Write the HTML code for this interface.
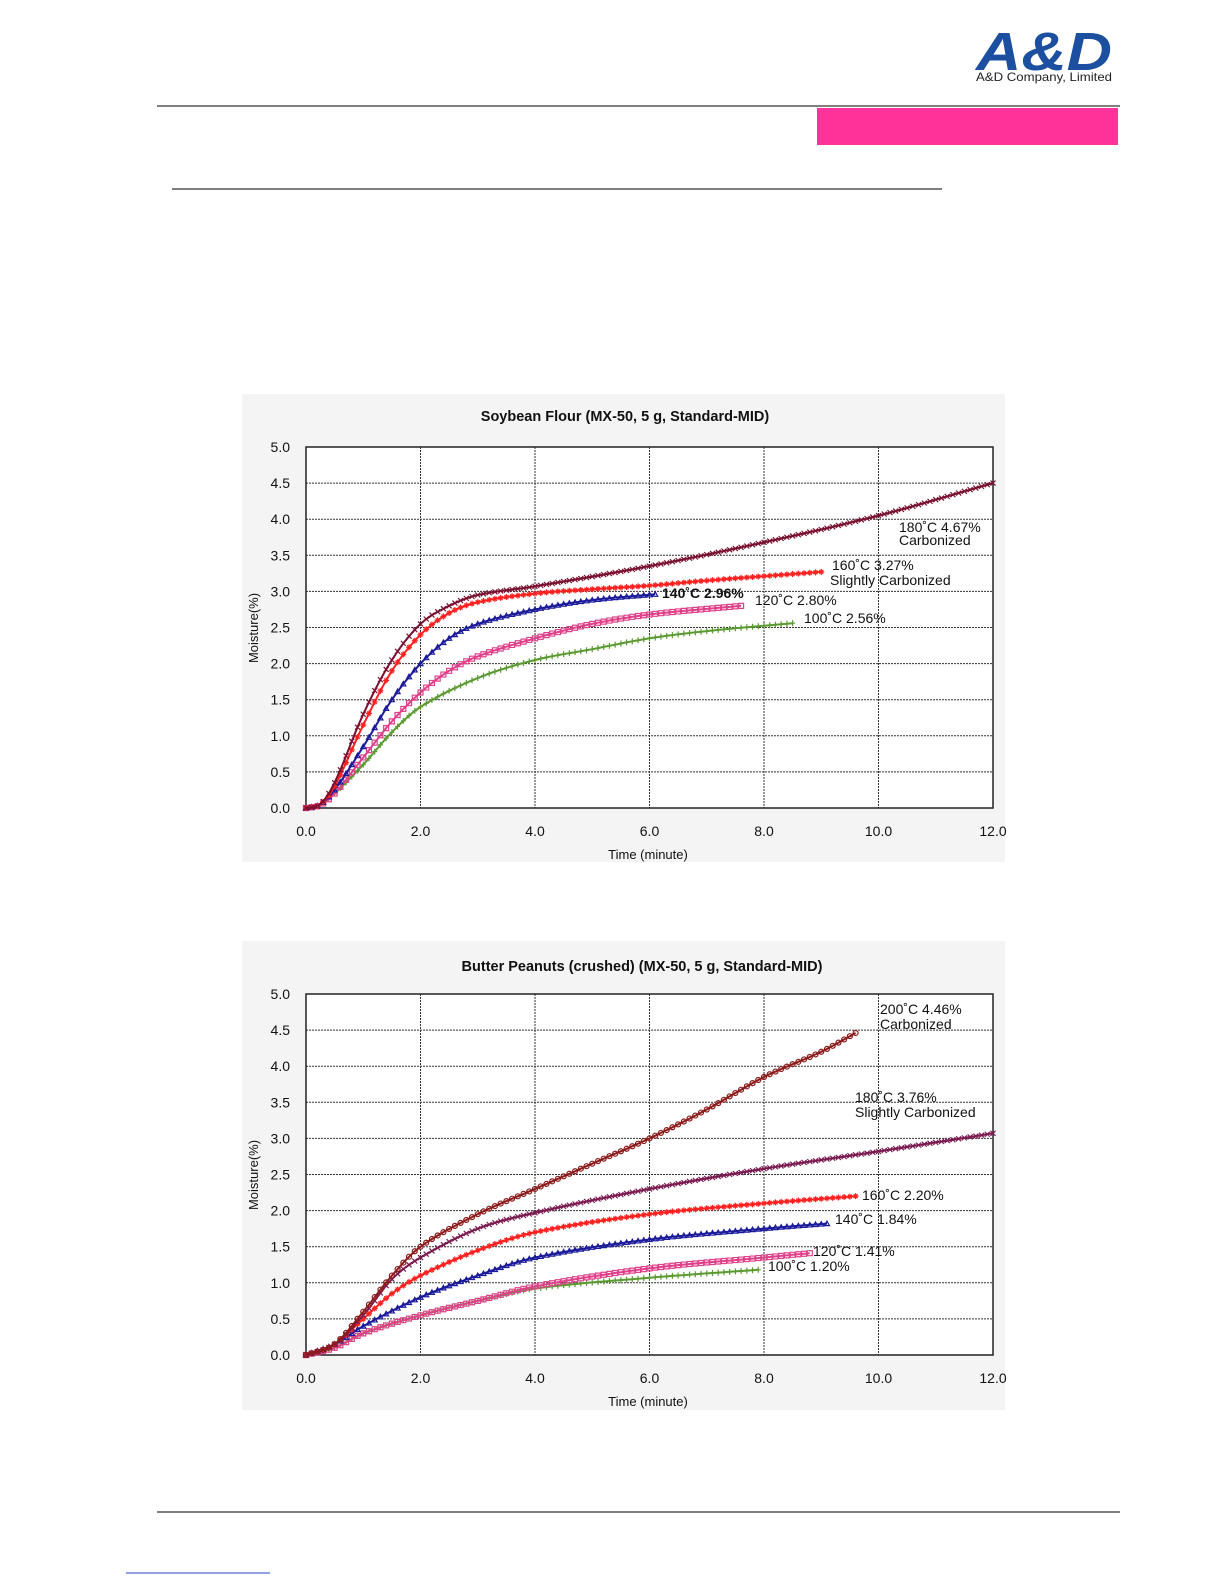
<!DOCTYPE html>
<html><head><meta charset="utf-8">
<style>
html,body{margin:0;padding:0;background:#fff;}
body{width:1224px;height:1584px;position:relative;overflow:hidden;font-family:"Liberation Sans",sans-serif;}
</style></head>
<body>
<svg id="s" width="1224" height="1584" viewBox="0 0 1224 1584" xmlns="http://www.w3.org/2000/svg" style="position:absolute;left:0;top:0">
<text x="976" y="70" font-family="Liberation Sans,sans-serif" font-weight="bold" font-style="italic" font-size="54" fill="#1c4fa0" textLength="136" lengthAdjust="spacingAndGlyphs">A&amp;D</text>
<text x="976" y="81" font-family="Liberation Sans,sans-serif" font-size="12" fill="#222" textLength="136" lengthAdjust="spacingAndGlyphs">A&amp;D Company, Limited</text>
<line x1="157" y1="106" x2="1120" y2="106" stroke="#333" stroke-width="1.2"/>
<rect x="817" y="108" width="301" height="37" fill="#ff3399"/>
<line x1="172" y1="189" x2="942" y2="189" stroke="#333" stroke-width="1.2"/>
<line x1="157" y1="1512" x2="1120" y2="1512" stroke="#333" stroke-width="1.2"/>
<line x1="126" y1="1573" x2="270" y2="1573" stroke="#2244cc" stroke-width="1"/>
<rect x="242" y="394" width="763" height="468" fill="#f4f4f4"/>
<rect x="242" y="941" width="763" height="469" fill="#f4f4f4"/>
<g id="c1"></g><g id="c2"></g>
<g font-family="Liberation Sans,sans-serif" font-size="14" fill="#111">
<text x="625" y="421" text-anchor="middle" font-weight="bold" font-size="14.5">Soybean Flour (MX-50, 5 g, Standard-MID)</text>
<text x="642" y="971" text-anchor="middle" font-weight="bold" font-size="14.5">Butter Peanuts (crushed)  (MX-50, 5 g, Standard-MID)</text>
<text x="648" y="859" text-anchor="middle" font-size="13">Time (minute)</text>
<text x="648" y="1406" text-anchor="middle" font-size="13">Time (minute)</text>
<text transform="translate(258,628) rotate(-90)" text-anchor="middle" font-size="13">Moisture(%)</text>
<text transform="translate(258,1175) rotate(-90)" text-anchor="middle" font-size="13">Moisture(%)</text>
<text x="899" y="532">180˚C 4.67%</text>
<text x="899" y="545">Carbonized</text>
<text x="832" y="570">160˚C 3.27%</text>
<text x="830" y="585">Slightly Carbonized</text>
<text x="662" y="598" font-weight="bold">140˚C 2.96%</text>
<text x="755" y="605">120˚C 2.80%</text>
<text x="804" y="623">100˚C 2.56%</text>
<text x="880" y="1014">200˚C 4.46%</text>
<text x="880" y="1029">Carbonized</text>
<text x="855" y="1102">180˚C 3.76%</text>
<text x="855" y="1117">Slightly Carbonized</text>
<text x="862" y="1200">160˚C 2.20%</text>
<text x="835" y="1224">140˚C 1.84%</text>
<text x="813" y="1256">120˚C 1.41%</text>
<text x="768" y="1271">100˚C 1.20%</text>
</g>
</svg>
<script>
var NS="http://www.w3.org/2000/svg";
function el(p,n,a,t){var e=document.createElementNS(NS,n);for(var k in a)e.setAttribute(k,a[k]);if(t!==undefined)e.textContent=t;p.appendChild(e);return e;}
function interp(k,t){var n=k.length;for(var i=0;i<n-1;i++){if(t<=k[i+1][0]+1e-9){
 var p0=k[Math.max(i-1,0)],p1=k[i],p2=k[i+1],p3=k[Math.min(i+2,n-1)];
 var h=p2[0]-p1[0];var u=(t-p1[0])/h;
 var m1=(p2[1]-p0[1])/(p2[0]-p0[0]||1)*h, m2=(p3[1]-p1[1])/(p3[0]-p1[0]||1)*h;
 var u2=u*u,u3=u2*u;
 return (2*u3-3*u2+1)*p1[1]+(u3-2*u2+u)*m1+(-2*u3+3*u2)*p2[1]+(u3-u2)*m2;}}
 return k[n-1][1];}
function chart(g,top,series){
 var L=306,R=993,B=top+361,T=top;
 var X=function(t){return L+t*(R-L)/12},Y=function(v){return B-v*(B-T)/5};
 el(g,"rect",{x:L,y:T,width:R-L,height:B-T,fill:"#fff"});
 for(var i=1;i<10;i++){var y=Y(i*0.5);el(g,"line",{x1:L,x2:R,y1:y,y2:y,stroke:"#333","stroke-width":1,"stroke-dasharray":"2,1"});}
 for(var i=1;i<6;i++){var x=X(i*2);el(g,"line",{x1:x,x2:x,y1:T,y2:B,stroke:"#333","stroke-width":1,"stroke-dasharray":"2,1"});}
 el(g,"rect",{x:L,y:T,width:R-L,height:B-T,fill:"none",stroke:"#222","stroke-width":1.5});
 for(var i=0;i<=10;i++){el(g,"text",{x:L-16,y:Y(i*0.5)+5,"text-anchor":"end","font-family":"Liberation Sans,sans-serif","font-size":"14",fill:"#111"},(i*0.5).toFixed(1));}
 for(var i=0;i<=6;i++){el(g,"text",{x:X(i*2),y:B+28,"text-anchor":"middle","font-family":"Liberation Sans,sans-serif","font-size":"14",fill:"#111"},(i*2).toFixed(1));}
 series.forEach(function(s){
  var k=s.k,end=k[k.length-1][0],pts=[],d="";
  for(var t=0;t<=end+1e-6;t+=0.1){pts.push([X(t),Y(Math.max(0,interp(k,t)))]);}
  el(g,"polyline",{points:pts.map(function(p){return p[0].toFixed(1)+","+p[1].toFixed(1)}).join(" "),fill:"none",stroke:s.c,"stroke-width":2});
  pts.forEach(function(p){var x=p[0],y=p[1];
   if(s.m=="x")d+="M"+(x-2.5)+" "+(y-2.5)+"l5 5m0 -5l-5 5";
   else if(s.m=="+")d+="M"+x+" "+(y-3)+"v6M"+(x-2.5)+" "+y+"h5";
   else if(s.m=="^")d+="M"+(x-2.5)+" "+(y+2)+"l2.5 -4.5l2.5 4.5z";
   else if(s.m=="s")d+="M"+(x-2.5)+" "+(y-2.5)+"h5v5h-5z";
   else if(s.m=="o")d+="M"+(x-2.5)+" "+y+"a2.5 2.5 0 1 0 5 0a2.5 2.5 0 1 0 -5 0";
   else d+="M"+(x-3)+" "+y+"h6M"+x+" "+(y-3)+"v6M"+(x-2)+" "+(y-2)+"l4 4m0 -4l-4 4";
  });
  el(g,"path",{d:d,fill:"none",stroke:s.c,"stroke-width":1.2});
 });
}
chart(document.getElementById("c1"),447,[
 {c:"#5a9a30",m:"+",k:[[0,0],[.25,.04],[.5,.2],[1,.6],[1.5,1.05],[2,1.4],[3,1.8],[4,2.05],[5,2.2],[6,2.35],[7,2.45],[8.5,2.56]]},
 {c:"#e0408a",m:"s",k:[[0,0],[.25,.04],[.5,.2],[1,.7],[1.5,1.2],[2,1.6],[2.5,1.9],[3,2.1],[4,2.35],[5,2.55],[6,2.68],[7.6,2.8]]},
 {c:"#1a1a9a",m:"^",k:[[0,0],[.25,.05],[.5,.25],[1,.85],[1.5,1.5],[2,2.0],[2.5,2.35],[3,2.55],[4,2.75],[5,2.88],[6.1,2.96]]},
 {c:"#ff2020",m:"*",k:[[0,0],[.25,.05],[.5,.3],[1,1.15],[1.5,1.9],[2,2.4],[2.5,2.7],[3,2.85],[4,2.97],[5,3.03],[6,3.08],[7,3.15],[9,3.27]]},
 {c:"#7a1030",m:"x",k:[[0,0],[.25,.05],[.5,.35],[1,1.3],[1.5,2.05],[2,2.55],[2.5,2.8],[3,2.95],[4,3.07],[6,3.35],[8,3.68],[10,4.05],[12,4.5]]}
]);
chart(document.getElementById("c2"),994,[
 {c:"#5a9a30",m:"+",k:[[0,0],[.5,.1],[1,.3],[2,.55],[3,.75],[4,.92],[6,1.07],[7.9,1.18]]},
 {c:"#e0408a",m:"s",k:[[0,0],[.5,.1],[1,.3],[2,.55],[3,.75],[4,.95],[6,1.2],[8,1.35],[8.8,1.41]]},
 {c:"#1a1a9a",m:"^",k:[[0,0],[.5,.15],[1,.4],[2,.8],[3,1.1],[4,1.35],[6,1.6],[8,1.75],[9.1,1.82]]},
 {c:"#ff2020",m:"*",k:[[0,0],[.5,.15],[1,.5],[1.5,.85],[2,1.1],[3,1.45],[4,1.7],[6,1.95],[8,2.1],[9.6,2.2]]},
 {c:"#7a1a50",m:"x",k:[[0,0],[.5,.15],[1,.55],[1.5,1.05],[2,1.35],[3,1.75],[4,1.97],[6,2.3],[8,2.58],[10,2.82],[12,3.07]]},
 {c:"#8b1a1a",m:"o",k:[[0,0],[.5,.15],[1,.6],[1.5,1.1],[2,1.5],[3,1.95],[4,2.3],[5,2.65],[6,3.0],[7,3.4],[8,3.85],[9,4.2],[9.6,4.46]]}
]);
</script>
</body></html>
